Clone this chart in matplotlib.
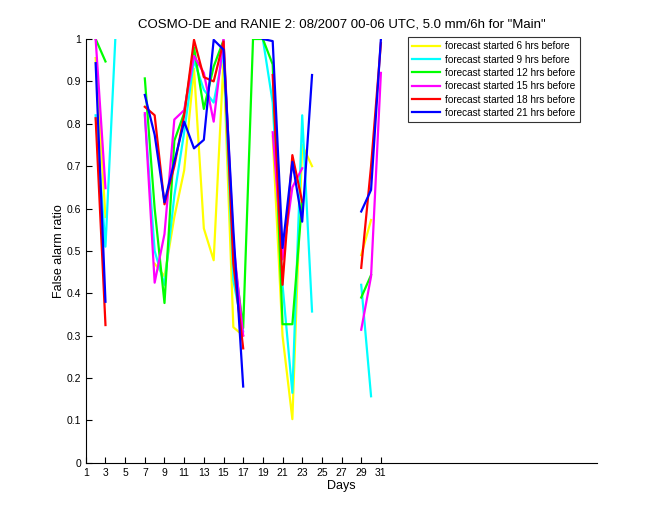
import numpy as np
import matplotlib as mpl
mpl.use('Agg')
import matplotlib.pyplot as plt

nan = np.nan
days = np.arange(1, 32)

# false alarm ratio per day (index 0 = day 1), nan = no data
far_06h = [nan, 0.955, 0.58, nan, nan, nan, nan, 0.47, 0.44, 0.58, 0.69,
           0.93, 0.553, 0.478, 0.95, 0.32, 0.30, nan, nan, 0.77, 0.30,
           0.103, 0.75, 0.70, nan, nan, nan, nan, 0.49, 0.573, nan]
far_09h = [nan, 0.82, 0.51, 1.0, nan, nan, 0.82, 0.50, 0.42, 0.63, 0.78,
           0.95, 0.88, 0.85, 0.97, 0.43, 0.31, nan, 1.0, 0.85, 0.42,
           0.165, 0.82, 0.357, nan, nan, nan, nan, 0.42, 0.157, nan]
far_12h = [nan, 1.0, 0.947, nan, nan, nan, 0.907, 0.60, 0.377, 0.76, 0.825,
           0.98, 0.835, 0.935, 0.997, 0.50, 0.318, 1.0, 1.0, 0.94, 0.327,
           0.327, 0.62, nan, nan, nan, nan, nan, 0.39, 0.443, nan]
far_15h = [nan, 1.0, 0.648, nan, nan, nan, 0.825, 0.425, 0.54, 0.81, 0.832,
           0.96, 0.92, 0.805, 1.0, 0.52, 0.30, nan, nan, 0.78, 0.48,
           0.65, 0.695, nan, nan, nan, nan, nan, 0.314, 0.44, 0.92]
far_18h = [nan, 0.813, 0.325, nan, nan, nan, 0.84, 0.82, 0.61, 0.70, 0.82,
           0.998, 0.91, 0.90, 0.994, 0.47, 0.27, nan, nan, 0.915, 0.42,
           0.726, 0.616, nan, nan, nan, nan, nan, 0.46, 0.70, 0.99]
far_21h = [nan, 0.943, 0.38, nan, nan, nan, 0.868, 0.774, 0.615, 0.71, 0.805,
           0.742, 0.762, 0.998, 0.975, 0.55, 0.18, nan, 1.0, 0.995, 0.507,
           0.71, 0.569, 0.915, nan, nan, nan, nan, 0.593, 0.644, 1.0]

series = [far_06h, far_09h, far_12h, far_15h, far_18h, far_21h]
labels = ['forecast started 6 hrs before', 'forecast started 9 hrs before',
          'forecast started 12 hrs before', 'forecast started 15 hrs before',
          'forecast started 18 hrs before', 'forecast started 21 hrs before']
colors = ['#ffff00', '#00ffff', '#00ff00', '#ff00ff', '#ff0000', '#0000ff']

plt.rcParams['font.family'] = ['Liberation Sans', 'DejaVu Sans']

fig = plt.figure(figsize=(6.6, 5.2), dpi=100)
ax = fig.add_axes([0.13, 0.11, 0.775, 0.815])

for vals, lab, col in zip(series, labels, colors):
    ax.plot(days, vals, color=col, lw=1.6, label=lab)

ax.set_xlim(1, 53)
ax.set_ylim(0, 1)
ax.set_xticks(np.arange(1, 32, 2))
ax.set_yticks(np.arange(0, 1.01, 0.1))
ax.set_yticklabels(['0', '0.1', '0.2', '0.3', '0.4', '0.5', '0.6', '0.7',
                    '0.8', '0.9', '1'])
ax.tick_params(direction='in', length=4, labelsize=7.5, width=0.8)
ax.spines['top'].set_visible(False)
ax.spines['right'].set_visible(False)
ax.set_xlabel('Days', fontsize=9, labelpad=2)
ax.set_ylabel('False alarm ratio', fontsize=9, labelpad=1)
ax.set_title('COSMO-DE and RANIE 2: 08/2007 00-06 UTC, 5.0 mm/6h for "Main"',
             fontsize=9.5, pad=8)

leg = ax.legend(loc='upper right', bbox_to_anchor=(0.966, 1.005), fontsize=7.2,
                frameon=True, fancybox=False, handlelength=2.8,
                borderpad=0.45, labelspacing=0.33, handletextpad=0.5,
                borderaxespad=0)
leg.get_frame().set_edgecolor('black')
leg.get_frame().set_linewidth(0.8)

fig.savefig('out.png', dpi=100)
